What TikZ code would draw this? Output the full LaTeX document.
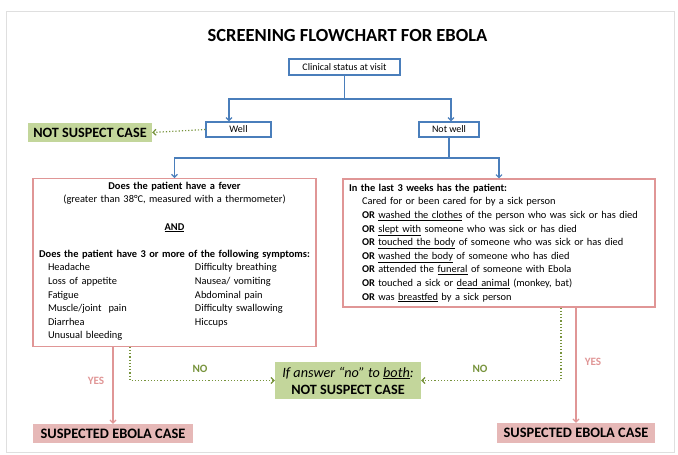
\documentclass[tikz,border=0pt]{standalone}
\usepackage{fontspec}
\setmainfont{Carlito}
\usetikzlibrary{arrows.meta}

\definecolor{flowblue}{RGB}{74,126,187}
\definecolor{edgepink}{RGB}{224,150,150}
\definecolor{fillpink}{RGB}{230,184,183}
\definecolor{fillgreen}{RGB}{195,214,155}
\definecolor{linegreen}{RGB}{119,147,60}

\begin{document}
\begin{tikzpicture}[x=1pt,y=-1pt,
    bluebox/.style={draw=flowblue,line width=1.2pt,fill=white,inner sep=0pt,font=\fontsize{10}{12}\selectfont},
    pinkbox/.style={draw=edgepink,line width=1.1pt,fill=white,font=\fontsize{10.4}{13.6}\selectfont},
    greenbox/.style={fill=fillgreen,inner sep=0pt,font=\bfseries\fontsize{14.2}{17}\selectfont},
    suspectbox/.style={fill=fillpink,inner sep=0pt,font=\bfseries\fontsize{14.4}{16}\selectfont},
    blueflow/.style={draw=flowblue,line width=1.2pt,-{Straight Barb[length=3pt,width=6pt]}},
    greenflow/.style={draw=linegreen,line width=1.2pt,dotted,-{Straight Barb[length=3pt,width=6pt]}},
    pinkflow/.style={draw=edgepink,line width=1.2pt,-{Straight Barb[length=3pt,width=6pt]}},
    yeslabel/.style={text=edgepink,font=\bfseries\fontsize{11.2}{13}\selectfont},
    nolabel/.style={text=linegreen,font=\bfseries\fontsize{11.2}{13}\selectfont}]

  \useasboundingbox (0,0) rectangle (678,455);
  \draw[gray!25] (6,11) rectangle (674,452);

  \node[font=\bfseries\fontsize{18.5}{22}\selectfont] (title) at (347.5,35) {SCREENING FLOWCHART FOR EBOLA};

  % status at visit
  \node[bluebox,minimum width=111pt,minimum height=16pt] (clinical) at (344.5,67) {Clinical status at visit};
  \node[bluebox,minimum width=65pt,minimum height=15pt] (well) at (238.5,129.5) {Well};
  \node[bluebox,minimum width=60pt,minimum height=15pt] (notwell) at (449,129.5) {Not well};
  \node[greenbox,minimum width=124pt,minimum height=19pt] (notsuspect) at (90,132.5) {NOT SUSPECT CASE};

  \coordinate (fork) at (344.5,99);
  \coordinate (fork2) at (449,158);
  \draw[blueflow] (clinical.south) -- (fork) -| ([xshift=-9.5pt]well.north);
  \draw[blueflow] (fork) -| ([xshift=2pt]notwell.north);
  \draw[greenflow] (well.west) -- (notsuspect.east);

  % the two questions
  \node[pinkbox,minimum width=283pt,minimum height=165pt,text width=276pt,inner xsep=3.5pt,align=center] (fever) at (174.5,262.5) {%
    \textbf{Does the patient have a fever}\\
    (greater than 38°C, measured with a thermometer)\\[13.6pt]
    \textbf{\underline{AND}}\\[13.6pt]
    \textbf{Does the patient have 3 or more of the following symptoms:}\\
    \begin{tabular}[t]{@{\hspace{11.5pt}}p{147pt}@{}p{117.5pt}@{}}
      Headache & Difficulty breathing\\
      Loss of appetite & Nausea/ vomiting\\
      Fatigue & Abdominal pain\\
      Muscle/joint\ \ pain & Difficulty swallowing\\
      Diarrhea & Hiccups\\
      Unusual bleeding &
    \end{tabular}};
  \node[pinkbox,minimum width=312pt,minimum height=128pt,text width=300pt,inner xsep=6pt,align=left] (exposure) at (499,243) {%
    \textbf{In the last 3 weeks has the patient:}\\
    \hspace*{13pt}Cared for or been cared for by a sick person\\
    \hspace*{13pt}\textbf{OR} \underline{washed the clothes} of the person who was sick or has died\\
    \hspace*{13pt}\textbf{OR} \underline{slept with} someone who was sick or has died\\
    \hspace*{13pt}\textbf{OR} \underline{touched the body} of someone who was sick or has died\\
    \hspace*{13pt}\textbf{OR} \underline{washed the body} of someone who has died\\
    \hspace*{13pt}\textbf{OR} attended the \underline{funeral} of someone with Ebola\\
    \hspace*{13pt}\textbf{OR} touched a sick or \underline{dead animal} (monkey, bat)\\
    \hspace*{13pt}\textbf{OR} was \underline{breastfed} by a sick person};

  \draw[blueflow] (notwell.south) -- (fork2) -| (fever.north);
  \draw[blueflow] (fork2) -| (exposure.north);

  % outcomes
  \node[greenbox,minimum width=146pt,minimum height=37pt,align=center] (notsuspect2) at (348,380.5)
    {{\mdseries\itshape If answer “no” to \underline{both}:}\\NOT SUSPECT CASE};
  \node[suspectbox,minimum width=160pt,minimum height=19pt] (suspectleft) at (113,433.5) {SUSPECTED EBOLA CASE};
  \node[suspectbox,minimum width=158pt,minimum height=20pt] (suspectright) at (576,433) {SUSPECTED EBOLA CASE};

  \draw[pinkflow] (fever.south -| suspectleft.north) -- (suspectleft.north);
  \draw[greenflow] ([xshift=-44.5pt]fever.south) |- (notsuspect2.west);
  \draw[greenflow] ([xshift=62pt]exposure.south) |- (notsuspect2.east);
  \draw[pinkflow] (exposure.south -| suspectright.north) -- (suspectright.north);

  \node[yeslabel] (yesleft) at (96,381) {YES};
  \node[nolabel] (noleft) at (200,369) {NO};
  \node[nolabel] (noright) at (480,369) {NO};
  \node[yeslabel] (yesright) at (593,362) {YES};
\end{tikzpicture}
\end{document}
